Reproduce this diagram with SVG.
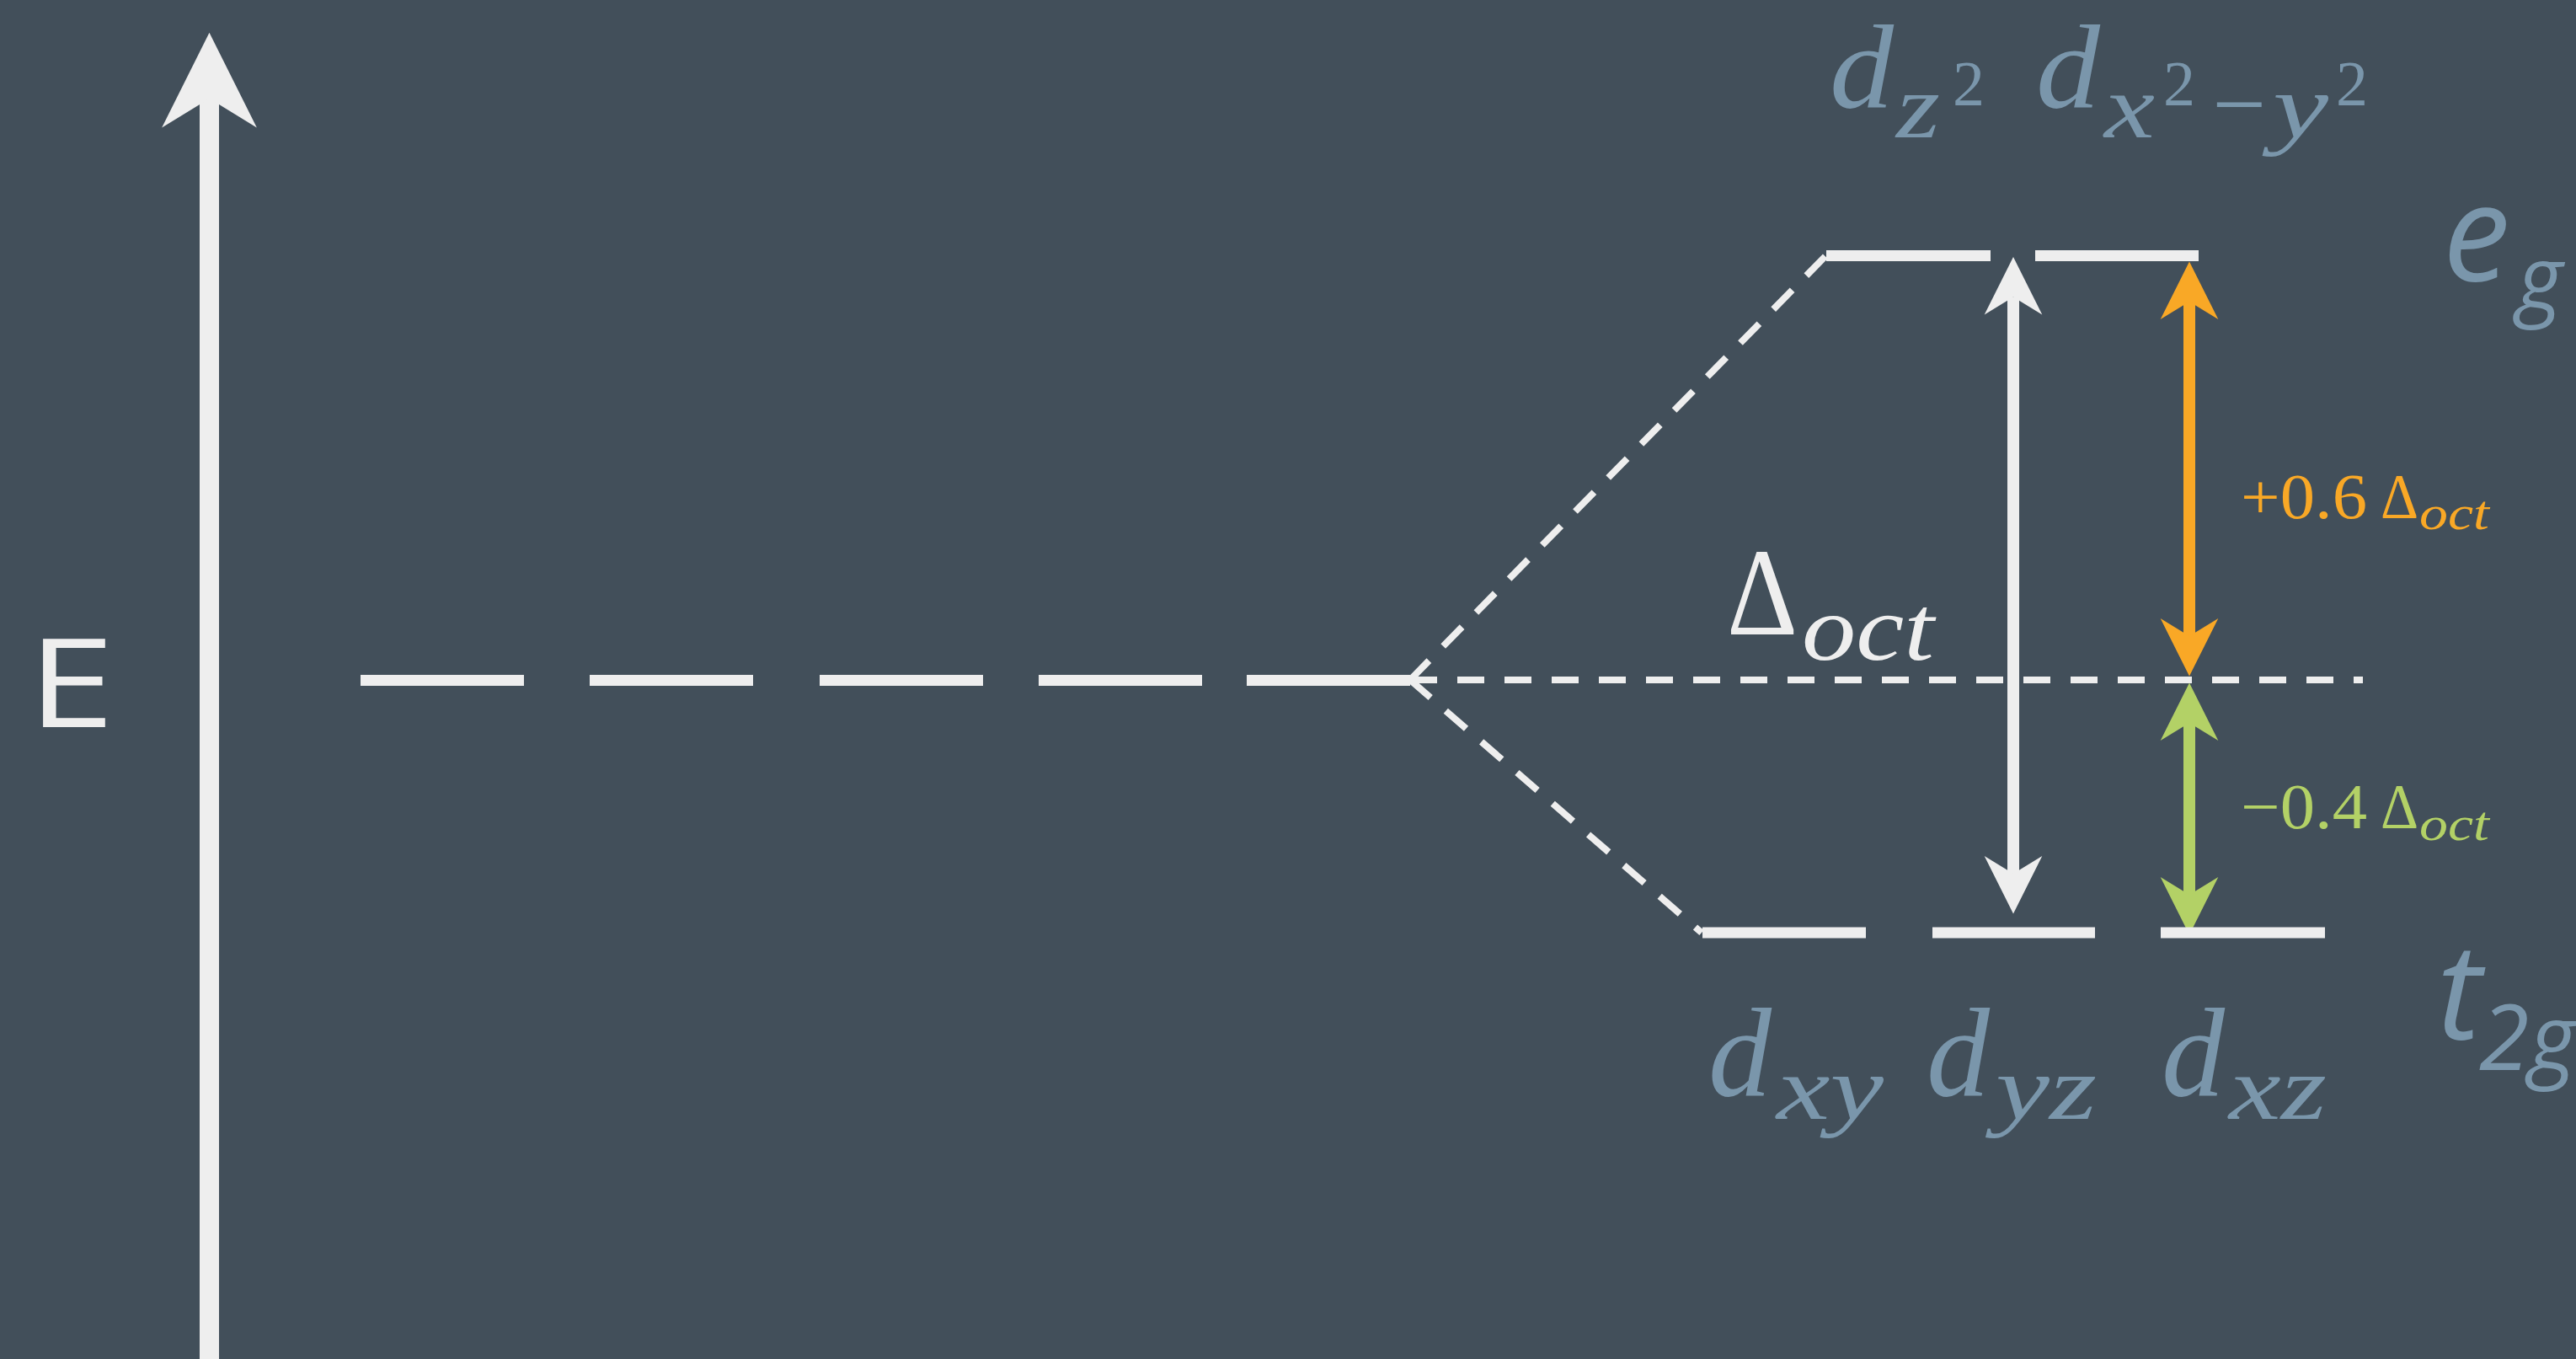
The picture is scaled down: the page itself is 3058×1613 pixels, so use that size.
<svg xmlns="http://www.w3.org/2000/svg" width="3058" height="1613" viewBox="0 0 3058 1613">
<style>
.lvl{stroke:#eeeeee;stroke-width:13;fill:none}
.thin{stroke:#eeeeee;stroke-width:8;stroke-dasharray:32 24;fill:none}
.m{font-family:"Liberation Serif","Times New Roman",serif;fill:#7a96ab}
.it{font-style:italic}
.lab{font-family:"Open Sans","Liberation Sans",sans-serif;font-style:italic;fill:#7a96ab}
.w{fill:#eeeeee}
.o{fill:#f9a826}
.g{fill:#b3d166}
</style>
<defs>
<marker id="aw" viewBox="0 -2.5 5 5" markerWidth="5" markerHeight="5" refX="1.5" refY="0" orient="auto-start-reverse" markerUnits="strokeWidth" overflow="visible"><path d="M0,-2.45 L4.9,0 L0,2.45 L1.5,0 Z" fill="#eeeeee"/></marker>
<marker id="ao" viewBox="0 -2.5 5 5" markerWidth="5" markerHeight="5" refX="1.5" refY="0" orient="auto-start-reverse" markerUnits="strokeWidth" overflow="visible"><path d="M0,-2.45 L4.9,0 L0,2.45 L1.5,0 Z" fill="#f9a826"/></marker>
<marker id="ag" viewBox="0 -2.5 5 5" markerWidth="5" markerHeight="5" refX="1.5" refY="0" orient="auto-start-reverse" markerUnits="strokeWidth" overflow="visible"><path d="M0,-2.45 L4.9,0 L0,2.45 L1.5,0 Z" fill="#b3d166"/></marker>
</defs>
<rect width="3058" height="1613" fill="#424f5a"/>

<g id="axis">
<line x1="248.5" y1="1613" x2="248.5" y2="117" stroke="#eeeeee" stroke-width="23" marker-end="url(#aw)"/>
<text x="33" y="863" font-family="'Open Sans','Liberation Sans',sans-serif" font-size="146" fill="#eeeeee" textLength="103" lengthAdjust="spacingAndGlyphs">E</text>
</g>

<g id="connectors">
<path class="thin" d="M1674,807 L2805,807"/>
<path class="thin" d="M1674,807 L2168,303"/>
<path class="thin" d="M1674,807 L2020,1107"/>
<line x1="2390" y1="352.6" x2="2390" y2="1037" stroke="#eeeeee" stroke-width="14" marker-start="url(#aw)" marker-end="url(#aw)"/>
<line x1="2599" y1="358" x2="2599" y2="755" stroke="#f9a826" stroke-width="14" marker-start="url(#ao)" marker-end="url(#ao)"/>
<line x1="2599" y1="858" x2="2599" y2="1062" stroke="#b3d166" stroke-width="14" marker-start="url(#ag)" marker-end="url(#ag)"/>
</g>

<g id="free-ion-level">
<path class="lvl" d="M428,807.5H622M700,807.5H894M973,807.5H1167M1233,807.5H1427M1480,807.5H1674"/>
</g>

<g id="eg-level">
<path class="lvl" d="M2168,303.5H2363M2416,303.5H2610"/>
<text class="lab" x="2900" y="333" font-size="160">e</text>
<text class="lab" x="2988" y="367" font-size="104">g</text>
</g>

<g id="t2g-level">
<path class="lvl" d="M2021,1107H2215M2294,1107H2487M2565,1107H2760"/>
<text class="lab" x="2893" y="1233" font-size="160">t</text>
<text class="lab" x="2943" y="1270" font-size="108">2g</text>
</g>

<g id="label-dz2">
<text class="m it" x="2172" y="128" font-size="142" textLength="76" lengthAdjust="spacingAndGlyphs">d</text>
<text class="m it" x="2251" y="163" font-size="108" textLength="52" lengthAdjust="spacingAndGlyphs">z</text>
<text class="m" x="2318" y="125" font-size="76">2</text>
</g>
<g id="label-dx2y2">
<text class="m it" x="2417" y="128" font-size="142" textLength="76" lengthAdjust="spacingAndGlyphs">d</text>
<text class="m it" x="2498" y="163" font-size="108" textLength="60" lengthAdjust="spacingAndGlyphs">x</text>
<text class="m" x="2568" y="125" font-size="76">2</text>
<text class="m" x="2626" y="160" font-size="108" textLength="64" lengthAdjust="spacingAndGlyphs">−</text>
<text class="m it" x="2698" y="163" font-size="108" textLength="66" lengthAdjust="spacingAndGlyphs">y</text>
<text class="m" x="2773" y="125" font-size="76">2</text>
</g>

<g id="label-dxy">
<text class="m it" x="2028" y="1300" font-size="150">d</text>
<text class="m it" x="2109" y="1328" font-size="108" textLength="127" lengthAdjust="spacingAndGlyphs">xy</text>
</g>
<g id="label-dyz">
<text class="m it" x="2287" y="1300" font-size="150">d</text>
<text class="m it" x="2369" y="1328" font-size="108" textLength="120" lengthAdjust="spacingAndGlyphs">yz</text>
</g>
<g id="label-dxz">
<text class="m it" x="2566" y="1300" font-size="150">d</text>
<text class="m it" x="2646" y="1328" font-size="108" textLength="116" lengthAdjust="spacingAndGlyphs">xz</text>
</g>

<g id="label-delta-oct">
<text class="m w" x="2050" y="753" font-size="148" textLength="84" lengthAdjust="spacingAndGlyphs">Δ</text>
<text class="m it w" x="2139" y="783" font-size="110" textLength="157" lengthAdjust="spacingAndGlyphs">oct</text>
</g>

<g id="label-plus">
<text class="m o" x="2660" y="615" font-size="76" textLength="150" lengthAdjust="spacingAndGlyphs">+0.6</text>
<text class="m o" x="2826" y="615" font-size="76" textLength="45" lengthAdjust="spacingAndGlyphs">Δ</text>
<text class="m it o" x="2872" y="628" font-size="56" textLength="83" lengthAdjust="spacingAndGlyphs">oct</text>
</g>
<g id="label-minus">
<text class="m g" x="2660" y="983" font-size="76" textLength="150" lengthAdjust="spacingAndGlyphs">−0.4</text>
<text class="m g" x="2826" y="983" font-size="76" textLength="45" lengthAdjust="spacingAndGlyphs">Δ</text>
<text class="m it g" x="2872" y="997" font-size="56" textLength="83" lengthAdjust="spacingAndGlyphs">oct</text>
</g>
</svg>
